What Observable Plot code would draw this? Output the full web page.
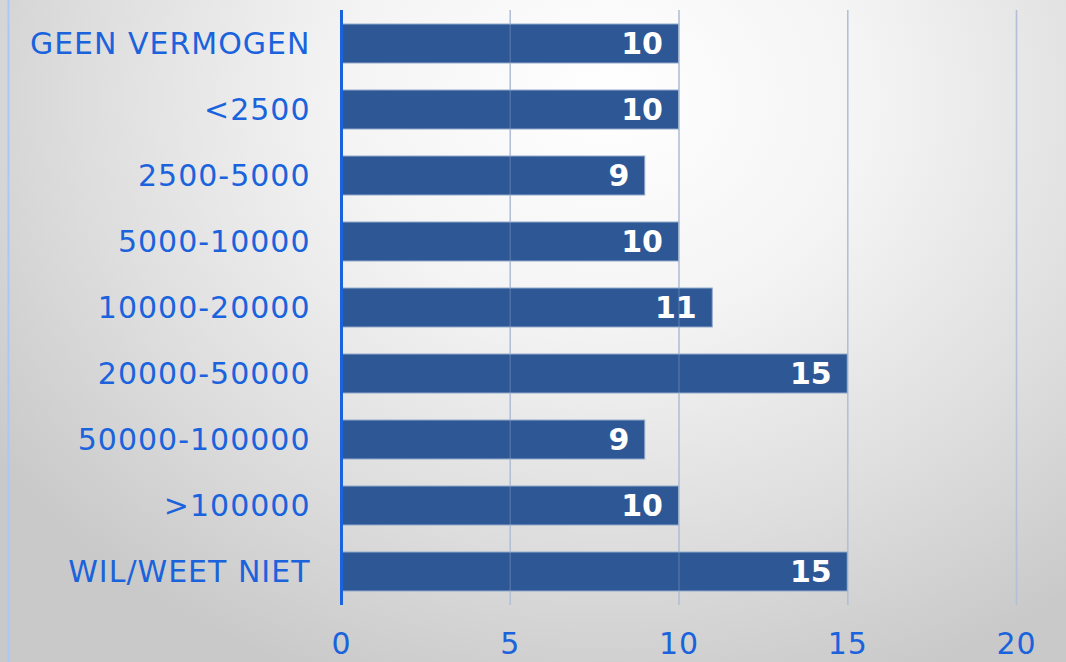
<!DOCTYPE html>
<html>
<head>
<meta charset="utf-8">
<script src="https://cdn.jsdelivr.net/npm/d3@7"></script>
<script src="https://cdn.jsdelivr.net/npm/@observablehq/plot@0.6"></script>
<style>
  html, body { margin: 0; padding: 0; }
  #chart {
    width: 1066px; height: 662px; overflow: hidden;
    background: radial-gradient(ellipse 70% 95% at 57% 15%, #ffffff 0%, #f4f4f4 35%, #dedede 70%, #c9c9c9 100%);
  }
  #chart svg { display: block; background: transparent; }
  #chart svg text { font-family: "DejaVu Sans", Verdana, sans-serif; }
  #chart svg g[aria-label="y-axis tick label"] text,
  #chart svg g[aria-label="x-axis tick label"] text { letter-spacing: 1px; }
</style>
</head>
<body>
<div id="chart"></div>
<script>
const categories = ["GEEN VERMOGEN", "<2500", "2500-5000", "5000-10000", "10000-20000", "20000-50000", "50000-100000", ">100000", "WIL/WEET NIET"];
const values = [10, 10, 9, 10, 11, 15, 9, 10, 15];
const xTicks = [0, 5, 10, 15, 20];
const gridTicks = [5, 10, 15, 20];

const data = categories.map((c, i) => ({category: c, value: values[i]}));
const blue = "#1a63dc";

const chart = Plot.plot({
  width: 1066,
  height: 662,
  marginLeft: 341,
  marginRight: 50,
  marginTop: 10,
  marginBottom: 57,
  style: {fontFamily: "DejaVu Sans, Verdana, sans-serif", fontSize: "30px", color: blue, background: "transparent"},
  x: {domain: [0, 20]},
  y: {domain: categories, paddingInner: 0.41, paddingOuter: 0.2},
  marks: [
    Plot.ruleX([0], {dx: -333, stroke: "#a8c8f8", strokeWidth: 2, insetTop: -10, insetBottom: -57}),
    Plot.ruleX(gridTicks, {stroke: "#b3bfd6", strokeWidth: 1.5}),
    Plot.barX(data, {x: "value", y: "category", fill: "#2d5795", stroke: "#93a9cc", strokeWidth: 1}),
    Plot.ruleX(gridTicks, {stroke: "#b3bfd6", strokeWidth: 1.5, strokeOpacity: 0.25}),
    Plot.text(data, {x: "value", y: "category", text: d => String(d.value), textAnchor: "end", dx: -16, fill: "white", fontWeight: "bold", fontSize: 30}),
    Plot.ruleX([0], {stroke: blue, strokeWidth: 3}),
    Plot.axisY({tickSize: 0, tickPadding: 31, label: null, fill: blue, fontSize: 30}),
    Plot.axisX({ticks: xTicks, tickSize: 0, tickPadding: 27, label: null, fill: blue, fontSize: 30})
  ]
});
document.getElementById("chart").appendChild(chart);
</script>
</body>
</html>
